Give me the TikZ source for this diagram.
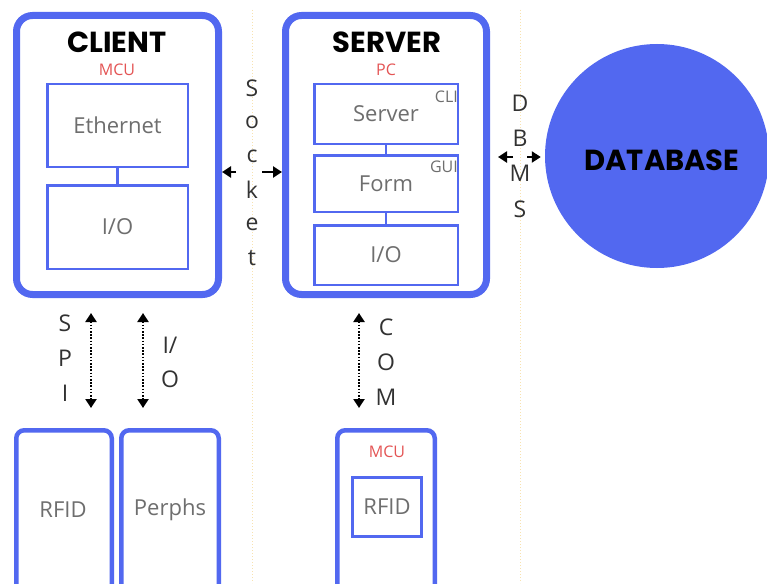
\documentclass[tikz,border=0pt]{standalone}
\usepackage{fontspec}
\setmainfont{Open Sans}
\newfontfamily\titlefont{Poppins}
\usetikzlibrary{arrows.meta,calc}
\definecolor{boxblue}{RGB}{82,104,240}
\definecolor{labred}{RGB}{228,84,84}
\definecolor{txtgray}{RGB}{110,110,110}
\definecolor{lettgray}{RGB}{50,50,50}
\definecolor{guide}{RGB}{248,226,176}
\begin{document}
\begin{tikzpicture}[x=1pt,y=-1pt,
  outerbox/.style={draw=boxblue,line width=7pt,rounded corners=16pt,fill=white,inner sep=0pt},
  innerbox/.style={draw=boxblue,line width=2.5pt,fill=white,inner sep=0pt,text=txtgray,font=\fontsize{22}{22}\selectfont},
  lowbox/.style={draw=boxblue,line width=4.5pt,rounded corners=8pt,fill=white,inner sep=0pt},
  title/.style={font=\titlefont\fontsize{29}{29}\selectfont\bfseries,text=black,inner sep=0pt},
  redlab/.style={font=\fontsize{16}{16}\selectfont,text=labred,inner sep=0pt},
  graylab/.style={font=\fontsize{22}{22}\selectfont,text=txtgray,inner sep=0pt},
  smalllab/.style={font=\fontsize{16}{16}\selectfont,text=txtgray,inner sep=0pt},
  letter/.style={font=\fontsize{23}{23}\selectfont,text=lettgray,inner sep=0pt},
  guideline/.style={draw=guide,line width=1pt,dash pattern=on 1pt off 2pt},
  link/.style={draw=boxblue,line width=2.5pt},
  sarrow/.style={draw=black,line width=2.4pt,-{Triangle[length=9pt,width=11pt]}},
  varrow/.style={draw=black,line width=2.2pt,dash pattern=on 1.6pt off 1.6pt,{Triangle[length=9pt,width=11pt]}-{Triangle[length=9pt,width=11pt]}}
]
\clip (0,0) rectangle (767,583);
\fill[white] (0,0) rectangle (767,583);

% guide lines
\coordinate (g1t) at (252,10);
\coordinate (g1b) at (252,583);
\coordinate (g2t) at (520,10);
\coordinate (g2b) at (520,583);
\draw[guideline] (g1t) -- (g1b);
\draw[guideline] (g2t) -- (g2b);

% client
\node[outerbox,minimum width=202pt,minimum height=279pt] (client) at (117.5,155) {};
\node[title] (clientT) at (117,42) {CLIENT};
\node[redlab] (clientM) at (117,70) {MCU};
\node[innerbox,minimum width=140.5pt,minimum height=82.5pt] (eth) at (117.5,125.5) {Ethernet};
\node[innerbox,minimum width=140.5pt,minimum height=83.5pt] (cio) at (117.5,227) {I/O};
\draw[link] (eth.south) -- (cio.north);

% server
\node[outerbox,minimum width=201pt,minimum height=279pt] (server) at (386,155) {};
\node[title] (serverT) at (387,42) {SERVER};
\node[redlab] (serverP) at (386,70) {PC};
\node[innerbox,minimum width=143.5pt,minimum height=59.5pt] (srv) at (386,114) {Server};
\node[innerbox,minimum width=143.5pt,minimum height=56.5pt] (form) at (386,183.5) {Form};
\node[innerbox,minimum width=143.5pt,minimum height=59.5pt] (sio) at (386,255) {I/O};
\draw[link] (srv.south) -- (form.north);
\draw[link] (form.south) -- (sio.north);
\node[smalllab,anchor=east] (cli) at (458,97) {CLI};
\node[smalllab,anchor=east] (gui) at (458,167) {GUI};

% database
\node[circle,fill=boxblue,minimum size=224pt,inner sep=0pt] (db) at (657,156) {};
\node[title] (dbT) at (662,160) {DATABASE};

% socket
\foreach \l/\y [count=\i] in {S/88,o/122,c/156,k/190,e/224,t/258}
  \node[letter] (sock\i) at (252,\y) {\l};
\coordinate (sockL) at (236,172);
\coordinate (sockR) at (262,172);
\draw[sarrow] (sockL) -- (sockL -| client.east);
\draw[sarrow] (sockR) -- (sockR -| server.west);

% DBMS
\foreach \l/\y [count=\i] in {D/103,B/138,M/173,S/209}
  \node[letter] (dbms\i) at (520,\y) {\l};
\coordinate (dbL) at (513,157);
\coordinate (dbR) at (527,157);
\draw[sarrow,shorten >=8pt] (dbL) -- (dbL -| server.east);
\draw[sarrow,shorten >=4pt] (dbR) -- (dbR -| db.west);

% bottom boxes
\node[lowbox,minimum width=95.5pt,minimum height=210pt] (rfid) at (64,535.25) {};
\node[graylab] (rfidT) at (63,510) {RFID};
\node[lowbox,minimum width=97.5pt,minimum height=210pt] (perph) at (170,535.25) {};
\node[graylab] (perphT) at (170,510) {Perphs};
\node[lowbox,minimum width=97.5pt,minimum height=210pt] (mcu) at (386,535.25) {};
\node[redlab] (mcuT) at (387,452) {MCU};
\node[innerbox,draw=boxblue,line width=3pt,minimum width=69pt,minimum height=59pt] (rfid2) at (387,507) {RFID};

% vertical links
\coordinate (spiX) at (91,0);
\coordinate (ioX) at (143,0);
\coordinate (comX) at (359,0);
\draw[varrow,shorten <=15pt,shorten >=20pt] (client.south -| spiX) -- (rfid.north -| spiX);
\draw[varrow,shorten <=15pt,shorten >=20pt] (client.south -| ioX) -- (perph.north -| ioX);
\draw[varrow,shorten <=15pt,shorten >=20pt] (server.south -| comX) -- (mcu.north -| comX);

\foreach \l/\y [count=\i] in {S/323,P/358,I/393}
  \node[letter] (spi\i) at (65,\y) {\l};
\node[letter] (io1) at (170,345) {I/};
\node[letter] (io2) at (170,379) {O};
\foreach \l/\y [count=\i] in {C/327,O/362,M/397}
  \node[letter] (com\i) at (386,\y) {\l};
\end{tikzpicture}
\end{document}
